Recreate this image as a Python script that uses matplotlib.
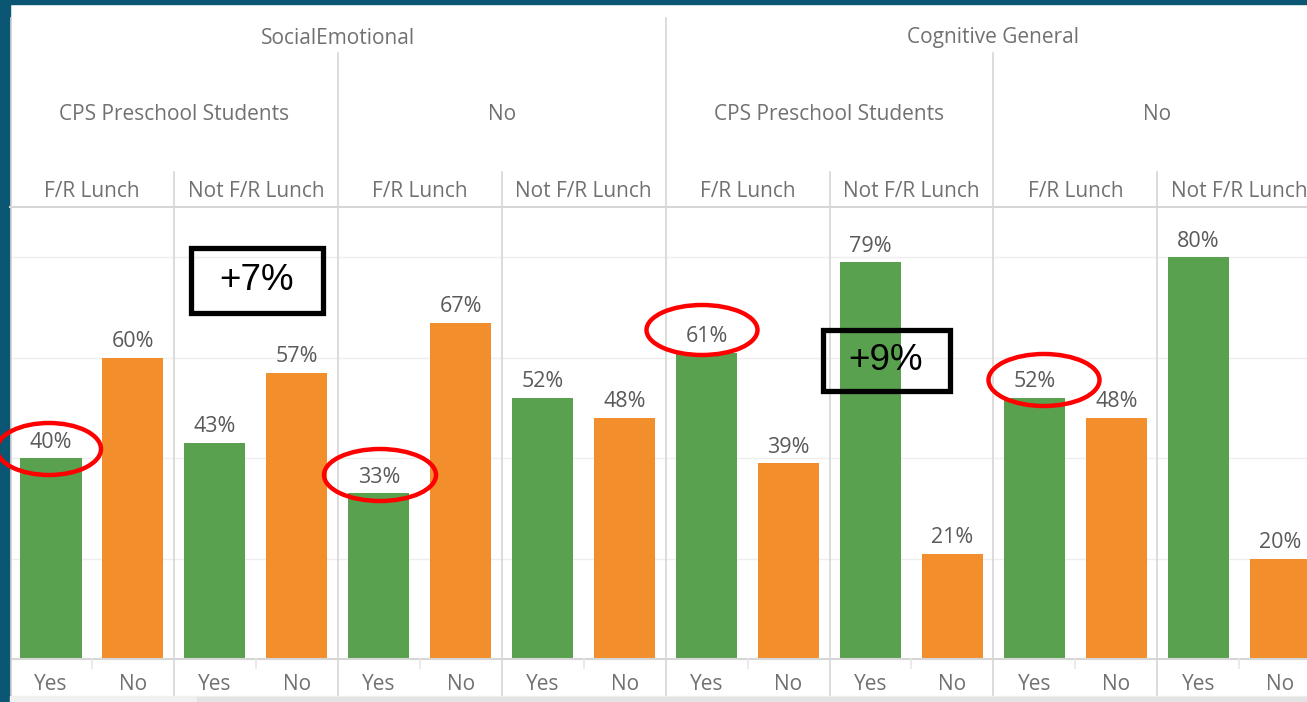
import numpy as np
import matplotlib.pyplot as plt
from matplotlib.patches import Ellipse, Rectangle

# --- data ---
measures = ["SocialEmotional", "Cognitive General"]
cohorts = ["CPS Preschool Students", "No"]
lunch = ["F/R Lunch", "Not F/R Lunch"]
outcomes = ["Yes", "No"]
yes_pct = [40, 43, 33, 52, 61, 79, 52, 80]
no_pct = [60, 57, 67, 48, 39, 21, 48, 20]

# callouts drawn on top of the chart (pixel positions of the screenshot)
circled = [(49, 449, 104, 52), (380, 475, 112, 52), (702, 330, 111, 50), (1044, 380, 111, 52)]
boxes = [("+7%", 190.5, 247.5, 132, 65), ("+9%", 822.5, 329.5, 127, 61)]

W, H = 1307, 702
green, orange = "#59a14f", "#f28e2b"
grey_txt = "#717171"
line_c = "#d6d6d6"
font = "Open Sans"
fs = 15

fig = plt.figure(figsize=(W / 100, H / 100), dpi=100)
fig.patch.set_facecolor("white")

# plot area: x 10..1307 px, y 207..659 px
slot = 81.95
ax = fig.add_axes([10 / W, (H - 659) / H, (W - 10) / W, (659 - 207) / H])
ax.set_xlim(-0.5, -0.5 + (W - 10) / slot)
ax.set_ylim(0, 90)
for s in ax.spines.values():
    s.set_visible(False)
ax.set_xticks([])
ax.set_yticks([20, 40, 60, 80])
ax.tick_params(left=False, labelleft=False)
ax.yaxis.grid(True, color="#eeeeee", linewidth=1)
ax.set_axisbelow(True)

n = len(yes_pct)
xy = np.arange(n) * 2
xn = xy + 1
bw = 0.745
ax.bar(xy, yes_pct, width=bw, color=green, zorder=3)
ax.bar(xn, no_pct, width=bw, color=orange, zorder=3)
for x, v in list(zip(xy, yes_pct)) + list(zip(xn, no_pct)):
    ax.annotate(f"{v}%", (x, v), xytext=(0, 4), textcoords="offset points",
                ha="center", va="bottom", fontsize=15.5, color="#5a5a5a", family=font)

for k in range(n + 1):
    ax.axvline(-0.5 + 2 * k, color=line_c, linewidth=1.2, zorder=1)
ax.axhline(0, color=line_c, linewidth=1.5, clip_on=False, zorder=4)

# overlay in pixel coordinates (y down)
ov = fig.add_axes([0, 0, 1, 1], zorder=10)
ov.set_xlim(0, W)
ov.set_ylim(H, 0)
ov.axis("off")
ov.patch.set_alpha(0)

def edge(k):
    return 10 + k * 2 * slot

# header rows
for i, m in enumerate(measures):
    ov.text(edge(4 * i + 2), 38, m, ha="center", va="center", fontsize=fs, color=grey_txt, family=font)
    for j, c in enumerate(cohorts):
        g = 2 * i + j
        ov.text(edge(2 * g + 1), 115, c, ha="center", va="center", fontsize=fs, color=grey_txt, family=font)
        for l, lab in enumerate(lunch):
            p = 2 * g + l
            ov.text(edge(p + 0.5), 191.5, lab, ha="center", va="center", fontsize=fs, color=grey_txt, family=font)
            for o, oc in enumerate(outcomes):
                ov.text(10 + (2 * p + o + 0.5) * slot, 684.5, oc, ha="center", va="center",
                        fontsize=fs, color=grey_txt, family=font)

# header separators
ov.plot([10.5, 10.5], [18, 695], color=line_c, lw=1.2)
ov.plot([10, W], [207, 207], color=line_c, lw=1.5)
for k in range(1, 8):
    x = edge(k)
    top = 18 if k == 4 else (53 if k % 2 == 0 else 172)
    ov.plot([x, x], [top, 207], color=line_c, lw=1.2)
    ov.plot([x, x], [659, 695], color=line_c, lw=1.2)
for k in range(8):
    x = edge(k + 0.5)
    ov.plot([x, x], [659, 668], color="#e6e6e6", lw=1.2)

# borders / scrollbar
ov.add_patch(Rectangle((0, 0), 10, H, color="#0b5673", zorder=1))
ov.add_patch(Rectangle((0, 0), W, 4, color="#0b5673", zorder=1))
ov.add_patch(Rectangle((10, 696), W - 10, 6, color="#f1f1f1", zorder=1))
ov.add_patch(Rectangle((197, 697), W - 197, 5, color="#e3e3e3", zorder=1))

# annotations
for cx, cy, w, h in circled:
    ov.add_patch(Ellipse((cx, cy), w, h, fill=False, edgecolor="#ff0000", linewidth=3.2, zorder=5))
for txt, x0, y0, w, h in boxes:
    ov.add_patch(Rectangle((x0, y0), w, h, fill=False, edgecolor="black", linewidth=3.8, zorder=5))
    ov.text(x0 + w / 2, y0 + h / 2 + 1, txt, ha="center", va="center", fontsize=26.5,
            color="black", family="Liberation Sans", zorder=6)

fig.savefig("out.png", dpi=100)
